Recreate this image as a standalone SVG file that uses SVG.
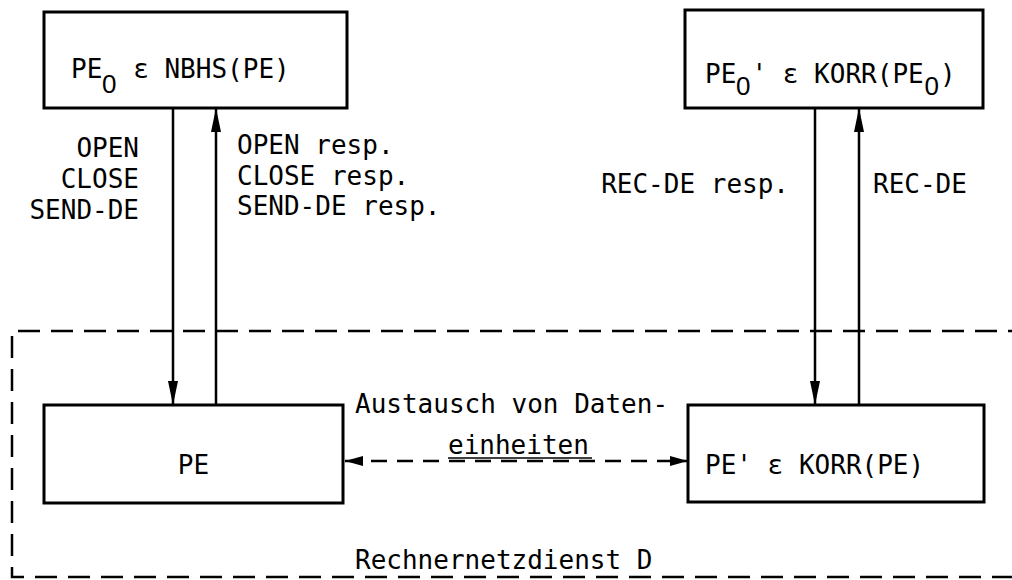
<svg xmlns="http://www.w3.org/2000/svg" width="1012" height="580" viewBox="0 0 1012 580">
<defs>
<style>
.box{fill:none;stroke:#000;stroke-width:3}
.ln{fill:none;stroke:#000;stroke-width:2.5}
.dash{fill:none;stroke:#000;stroke-width:2.5;stroke-dasharray:22 11}
text{font-family:"DejaVu Sans Mono","Liberation Mono",monospace;font-size:26px;fill:#000}
.z{font-family:"Liberation Sans","DejaVu Sans",sans-serif;font-size:26px}
</style>
<marker id="ah" viewBox="0 0 24 10" refX="24" refY="5" markerWidth="24" markerHeight="10" markerUnits="userSpaceOnUse" orient="auto-start-reverse">
<path d="M0,0 L24,5 L0,10 Z" fill="#000"/>
</marker>
<marker id="ahs" viewBox="0 0 18 10" refX="18" refY="5" markerWidth="18" markerHeight="10" markerUnits="userSpaceOnUse" orient="auto-start-reverse">
<path d="M0,0 L18,5 L0,10 Z" fill="#000"/>
</marker>
</defs>
<rect width="1012" height="580" fill="#fff"/>

<g id="service">
<path class="dash" d="M1030,331 H12 V577 H1030"/>
<text x="355" y="569">Rechnernetzdienst D</text>
</g>

<g id="pe0">
<rect class="box" x="44" y="12" width="303" height="96"/>
<text x="71" y="78">PE<tspan class="z" x="102" dy="15">0</tspan><tspan x="117.5" dy="-15"> ε NBHS(PE)</tspan></text>
</g>

<g id="pe0p">
<rect class="box" x="685" y="10" width="298" height="98"/>
<text x="705" y="83">PE<tspan class="z" x="736" dy="12">0</tspan><tspan x="751.5" dy="-12">' ε KORR(PE</tspan><tspan class="z" x="924.5" dy="12">0</tspan><tspan x="940" dy="-12">)</tspan></text>
</g>

<g id="pe">
<rect class="box" x="44" y="405" width="299" height="98"/>
<text x="193.5" y="474" text-anchor="middle">PE</text>
</g>

<g id="pep">
<rect class="box" x="688" y="405" width="296" height="97"/>
<text x="705" y="474">PE' ε KORR(PE)</text>
</g>

<g id="connectors">
<line class="ln" x1="173" y1="108" x2="173" y2="405" marker-end="url(#ah)"/>
<line class="ln" x1="216" y1="405" x2="216" y2="108" marker-end="url(#ah)"/>
<line class="ln" x1="815" y1="108" x2="815" y2="405" marker-end="url(#ah)"/>
<line class="ln" x1="859" y1="405" x2="859" y2="108" marker-end="url(#ah)"/>
<line class="ln" x1="345" y1="461" x2="688" y2="461" stroke-dasharray="16 10" marker-start="url(#ahs)" marker-end="url(#ahs)"/>
</g>

<g id="labels">
<text x="139" y="157" text-anchor="end">OPEN</text>
<text x="139" y="188" text-anchor="end">CLOSE</text>
<text x="139" y="219" text-anchor="end">SEND-DE</text>
<text x="237" y="154">OPEN resp.</text>
<text x="237" y="185">CLOSE resp.</text>
<text x="237" y="215">SEND-DE resp.</text>
<text x="789" y="193" text-anchor="end">REC-DE resp.</text>
<text x="873" y="193">REC-DE</text>
<text x="355" y="413">Austausch von Daten-</text>
<text x="448" y="454">einheiten</text>
<line x1="448" y1="458" x2="592" y2="458" stroke="#000" stroke-width="1.5"/>
</g>
</svg>
